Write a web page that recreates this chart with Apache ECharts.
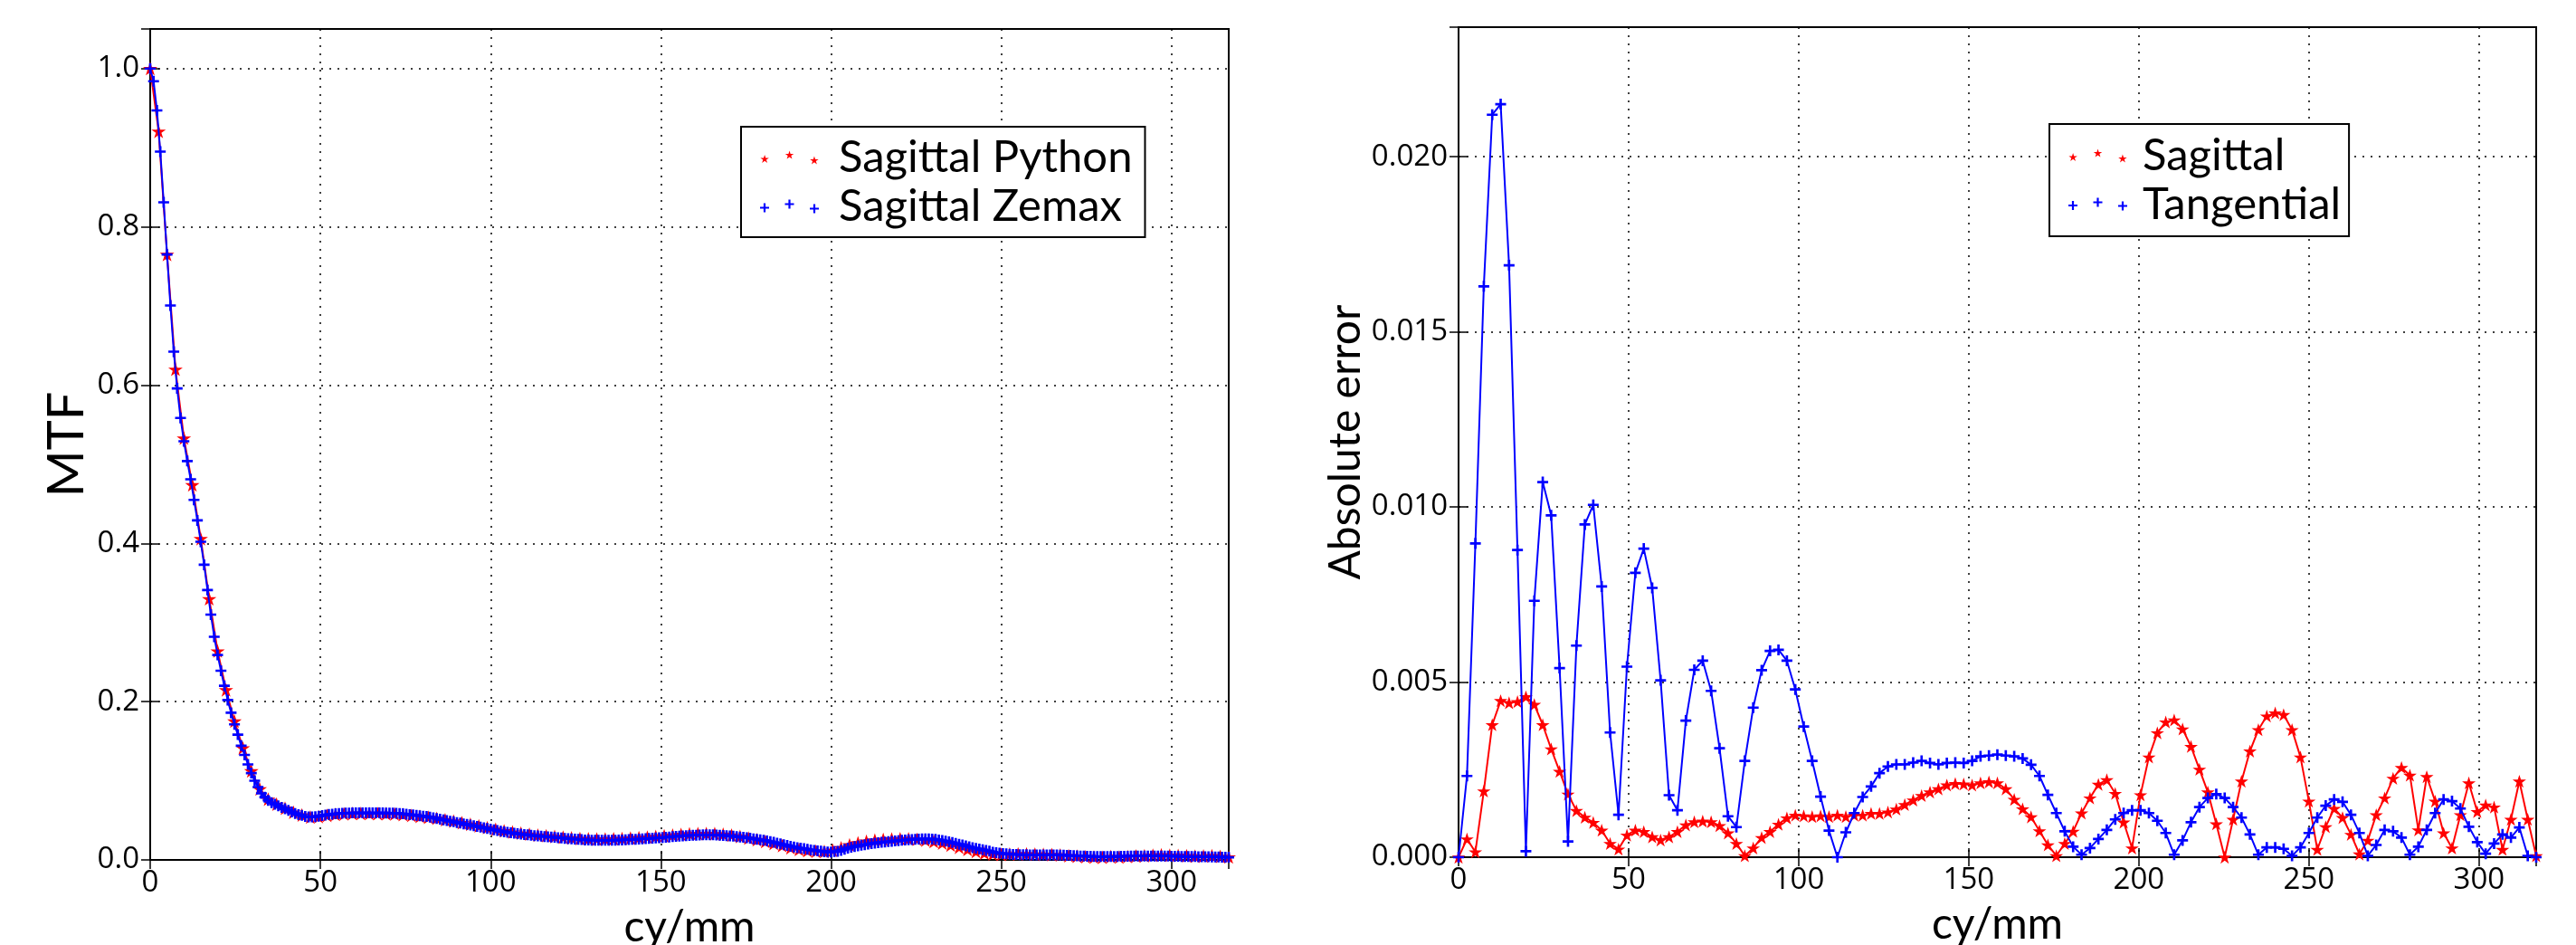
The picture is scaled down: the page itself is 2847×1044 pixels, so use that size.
<!DOCTYPE html>
<html><head><meta charset="utf-8">
<script src="https://cdn.jsdelivr.net/npm/echarts@6/dist/echarts.min.js"></script>
<style>html,body{margin:0;padding:0;background:#fff}#c{width:2847px;height:1044px}</style>
</head><body><div id="c"></div>
<script>
// ---------- DATA ----------
// frequency samples (cy/mm) of the Python computation (also used for the error plot)
const freqPython = [0,2.475,4.95,7.425,9.9,12.375,14.85,17.325,19.8,22.275,24.75,27.225,29.7,32.175,34.65,37.125,39.6,42.075,44.55,47.025,49.5,51.975,54.45,56.925,59.4,61.875,64.35,66.825,69.3,71.775,74.25,76.725,79.2,81.675,84.15,86.625,89.1,91.575,94.05,96.525,99,101.475,103.95,106.425,108.9,111.375,113.85,116.325,118.8,121.275,123.75,126.225,128.7,131.175,133.65,136.125,138.6,141.075,143.55,146.025,148.5,150.975,153.45,155.925,158.4,160.875,163.35,165.825,168.3,170.775,173.25,175.725,178.2,180.675,183.15,185.625,188.1,190.575,193.05,195.525,198,200.475,202.95,205.425,207.9,210.375,212.85,215.325,217.8,220.275,222.75,225.225,227.7,230.175,232.65,235.125,237.6,240.075,242.55,245.025,247.5,249.975,252.45,254.925,257.4,259.875,262.35,264.825,267.3,269.775,272.25,274.725,277.2,279.675,282.15,284.625,287.1,289.575,292.05,294.525,297,299.475,301.95,304.425,306.9,309.375,311.85,314.325,316.8];

// frequency samples (cy/mm) of the Zemax data
const freqZemax = [0,0.99,1.98,2.97,3.96,4.95,5.94,6.93,7.92,8.91,
9.9,10.89,11.88,12.87,13.86,14.85,15.84,16.83,17.82,18.81,
19.8,20.79,21.78,22.77,23.76,24.75,25.74,26.73,27.72,28.71,
29.7,30.69,31.68,32.67,33.66,34.65,35.64,36.63,37.62,38.61,
39.6,40.59,41.58,42.57,43.56,44.55,45.54,46.53,47.52,48.51,
49.5,50.49,51.48,52.47,53.46,54.45,55.44,56.43,57.42,58.41,
59.4,60.39,61.38,62.37,63.36,64.35,65.34,66.33,67.32,68.31,
69.3,70.29,71.28,72.27,73.26,74.25,75.24,76.23,77.22,78.21,
79.2,80.19,81.18,82.17,83.16,84.15,85.14,86.13,87.12,88.11,
89.1,90.09,91.08,92.07,93.06,94.05,95.04,96.03,97.02,98.01,
99,99.99,100.98,101.97,102.96,103.95,104.94,105.93,106.92,107.91,
108.9,109.89,110.88,111.87,112.86,113.85,114.84,115.83,116.82,117.81,
118.8,119.79,120.78,121.77,122.76,123.75,124.74,125.73,126.72,127.71,
128.7,129.69,130.68,131.67,132.66,133.65,134.64,135.63,136.62,137.61,
138.6,139.59,140.58,141.57,142.56,143.55,144.54,145.53,146.52,147.51,
148.5,149.49,150.48,151.47,152.46,153.45,154.44,155.43,156.42,157.41,
158.4,159.39,160.38,161.37,162.36,163.35,164.34,165.33,166.32,167.31,
168.3,169.29,170.28,171.27,172.26,173.25,174.24,175.23,176.22,177.21,
178.2,179.19,180.18,181.17,182.16,183.15,184.14,185.13,186.12,187.11,
188.1,189.09,190.08,191.07,192.06,193.05,194.04,195.03,196.02,197.01,
198,198.99,199.98,200.97,201.96,202.95,203.94,204.93,205.92,206.91,
207.9,208.89,209.88,210.87,211.86,212.85,213.84,214.83,215.82,216.81,
217.8,218.79,219.78,220.77,221.76,222.75,223.74,224.73,225.72,226.71,
227.7,228.69,229.68,230.67,231.66,232.65,233.64,234.63,235.62,236.61,
237.6,238.59,239.58,240.57,241.56,242.55,243.54,244.53,245.52,246.51,
247.5,248.49,249.48,250.47,251.46,252.45,253.44,254.43,255.42,256.41,
257.4,258.39,259.38,260.37,261.36,262.35,263.34,264.33,265.32,266.31,
267.3,268.29,269.28,270.27,271.26,272.25,273.24,274.23,275.22,276.21,
277.2,278.19,279.18,280.17,281.16,282.15,283.14,284.13,285.12,286.11,
287.1,288.09,289.08,290.07,291.06,292.05,293.04,294.03,295.02,296.01,
297,297.99,298.98,299.97,300.96,301.95,302.94,303.93,304.92,305.91,
306.9,307.89,308.88,309.87,310.86,311.85,312.84,313.83,314.82,315.81,
316.8];

// Sagittal MTF, Python (red stars)
const mtfPython = [1.000,0.9207,0.765,0.620,0.533,0.474,0.406,0.330,0.264,0.215,
0.1754,0.1415,0.1125,0.0897,0.0767,0.0704,0.0653,0.0603,0.0567,0.0541,
0.0546,0.0563,0.0575,0.0583,0.0587,0.0587,0.0586,0.0585,0.0584,0.0581,
0.0574,0.0562,0.055,0.0539,0.0526,0.0508,0.0491,0.0471,0.0451,0.043,
0.0409,0.0387,0.0368,0.0352,0.0338,0.0326,0.0314,0.0306,0.0297,0.0287,
0.0278,0.0271,0.0267,0.0265,0.0265,0.0267,0.0271,0.0277,0.0282,0.0289,
0.0297,0.0304,0.0314,0.0323,0.033,0.0332,0.0334,0.0332,0.0325,0.0313,
0.0297,0.0277,0.0256,0.0232,0.0208,0.018,0.0154,0.0133,0.0118,0.0109,
0.0107,0.0122,0.0154,0.0191,0.0216,0.0236,0.025,0.026,0.0266,0.0268,
0.0267,0.026,0.025,0.0233,0.0212,0.0187,0.0159,0.0132,0.0106,0.0087,
0.0074,0.007,0.0074,0.0076,0.0076,0.0073,0.0071,0.0067,0.0063,0.0054,
0.0048,0.004,0.0035,0.0034,0.0042,0.0036,0.0043,0.0049,0.0052,0.0059,
0.0064,0.0058,0.0057,0.0054,0.0047,0.0049,0.0053,0.0045,0.0037];

// Sagittal MTF, Zemax (blue plus)
const mtfZemax = [1.000,0.984,0.947,0.895,0.831,0.765,0.7006,0.6422,0.5958,0.5584,
0.529,0.504,0.481,0.455,0.429,0.402,0.373,0.341,0.310,0.282,
0.259,0.239,0.220,0.202,0.186,0.1713,0.1583,0.1443,0.1327,0.1207,
0.1097,0.1001,0.0921,0.0841,0.0793,0.0753,0.0723,0.0704,0.0684,0.0664,
0.0645,0.0625,0.0605,0.0587,0.0572,0.0562,0.0549,0.0542,0.0544,0.0546,
0.0553,0.056,0.0567,0.0574,0.0579,0.0583,0.0586,0.0589,0.0591,0.0592,
0.0594,0.0594,0.0594,0.0594,0.0594,0.0594,0.0594,0.0594,0.0594,0.0594,
0.0593,0.0592,0.0591,0.0589,0.0586,0.0583,0.0578,0.0573,0.0568,0.0563,
0.0558,0.0553,0.0548,0.0541,0.0533,0.0524,0.0514,0.0506,0.0498,0.049,
0.0482,0.0473,0.0465,0.0456,0.0448,0.044,0.0431,0.0423,0.0414,0.0405,
0.0397,0.0388,0.038,0.0371,0.0363,0.0356,0.0349,0.0342,0.0337,0.0331,
0.0326,0.0321,0.0316,0.0311,0.0306,0.0302,0.0299,0.0295,0.0292,0.0289,
0.0285,0.0281,0.0277,0.0273,0.0269,0.0266,0.0263,0.026,0.0256,0.0253,
0.0252,0.025,0.0249,0.0248,0.0248,0.0248,0.0248,0.0249,0.025,0.0251,
0.0253,0.0255,0.0257,0.0259,0.0261,0.0263,0.0266,0.0268,0.0271,0.0274,
0.0277,0.028,0.0283,0.0286,0.029,0.0294,0.0298,0.0301,0.0304,0.0307,
0.031,0.0312,0.0313,0.0315,0.0316,0.0317,0.0317,0.0316,0.0315,0.0313,
0.031,0.0307,0.0303,0.0299,0.0295,0.029,0.0285,0.028,0.0274,0.0267,
0.026,0.0254,0.0248,0.024,0.0231,0.0222,0.0212,0.0202,0.0192,0.0182,
0.0172,0.0163,0.0155,0.0148,0.0142,0.0135,0.0127,0.012,0.0115,0.0111,
0.0104,0.0101,0.0101,0.0105,0.0108,0.0121,0.0135,0.0148,0.016,0.0169,
0.0178,0.0186,0.0193,0.02,0.0207,0.0213,0.0218,0.0222,0.0227,0.0231,
0.0234,0.0239,0.0244,0.0248,0.0252,0.0255,0.0258,0.0261,0.0264,0.0265,
0.0265,0.0265,0.0264,0.026,0.0253,0.0246,0.0237,0.0228,0.0219,0.0209,
0.0198,0.0188,0.0177,0.0166,0.0155,0.0145,0.0136,0.0128,0.012,0.0111,
0.0098,0.0091,0.0086,0.0081,0.0076,0.0072,0.0069,0.0068,0.0067,0.0066,
0.0065,0.0064,0.0064,0.0064,0.0064,0.0064,0.0064,0.0063,0.0062,0.0062,
0.0061,0.0059,0.0057,0.0056,0.0054,0.0052,0.005,0.0048,0.0046,0.0045,
0.0044,0.0043,0.0042,0.0042,0.0042,0.0042,0.0043,0.0044,0.0045,0.0046,
0.0047,0.0048,0.0048,0.0049,0.0049,0.0049,0.0049,0.0049,0.0049,0.0049,
0.0049,0.0049,0.0048,0.0047,0.0046,0.0045,0.0044,0.0043,0.0043,0.0042,
0.0042,0.0041,0.004,0.0039,0.0039,0.0038,0.0037,0.0036,0.0035,0.0034,
0.0033];

// Absolute error, Sagittal (red stars)
const errSagittal = [0,0.00052,0.00015,0.00189,0.00378,0.00447,0.00441,0.00444,0.00458,0.00436,
0.00378,0.00309,0.00245,0.0018,0.00133,0.00114,0.00099,0.00077,0.00039,0.00023,
0.00063,0.00077,0.00073,0.00058,0.00049,0.00058,0.00073,0.00092,0.00101,0.00103,
0.00101,0.0009,0.00069,0.00039,0.00004,0.00026,0.00056,0.00073,0.00094,0.00112,
0.0012,0.00118,0.00116,0.00118,0.00116,0.0012,0.00116,0.0012,0.0012,0.00125,
0.00125,0.00129,0.00137,0.0015,0.00163,0.00176,0.00186,0.00195,0.00206,0.0021,
0.00209,0.00206,0.00212,0.00215,0.00212,0.00195,0.00165,0.00138,0.00115,0.00075,
0.00035,0.00004,0.00039,0.00074,0.00126,0.00169,0.00208,0.00221,0.00182,0.001,
0.00026,0.00178,0.00286,0.00355,0.00386,0.00392,0.00366,0.00316,0.00251,0.00186,
0.00095,0.0,0.00108,0.00217,0.00303,0.00364,0.00403,0.00412,0.00407,0.00364,
0.00286,0.0016,0.00022,0.00087,0.00139,0.00113,0.00065,0.00009,0.00048,0.00121,
0.00169,0.00225,0.00256,0.00234,0.00078,0.0023,0.0016,0.00069,0.00026,0.00121,
0.00212,0.0013,0.00149,0.00143,0.00022,0.00108,0.00217,0.00108,0.00004];

// Absolute error, Tangential (blue plus)
const errTangential = [0,0.00232,0.00896,0.0163,0.0212,0.0215,0.0169,0.00877,0.00017,0.00732,
0.01071,0.00976,0.0054,0.00045,0.00604,0.0095,0.01006,0.00773,0.00356,0.00121,
0.00544,0.00812,0.00881,0.00769,0.00505,0.00177,0.00134,0.0039,0.00535,0.00561,
0.00475,0.00311,0.00117,0.00086,0.00275,0.00427,0.00534,0.00589,0.00592,0.00561,
0.00479,0.00373,0.00275,0.00173,0.00076,0.0,0.00071,0.00126,0.00172,0.00202,
0.0024,0.00259,0.00265,0.00265,0.0027,0.00275,0.00269,0.00265,0.00269,0.0027,
0.00269,0.00275,0.00288,0.0029,0.00293,0.0029,0.00288,0.00282,0.00264,0.00232,
0.00178,0.00126,0.00074,0.0003,0.00007,0.00026,0.00052,0.00078,0.00108,0.00126,
0.00134,0.00134,0.00126,0.00104,0.00069,0.00007,0.00048,0.001,0.00143,0.00169,
0.0018,0.00169,0.00143,0.00113,0.00065,0.00007,0.00028,0.00028,0.00024,0.00004,
0.00028,0.00069,0.00113,0.00147,0.00165,0.00158,0.00121,0.00069,0.00004,0.00035,
0.00078,0.00074,0.00056,0.00007,0.0003,0.00078,0.00126,0.00165,0.0016,0.00139,
0.00087,0.00043,0.0001,0.00039,0.00065,0.00056,0.00085,0.00004,0];

const leftNames = ['Sagittal Python', 'Sagittal Zemax'];
const rightNames = ['Sagittal', 'Tangential'];
const axisNames = {x: 'cy/mm', yLeft: 'MTF', yRight: 'Absolute error'};

// ---------- STYLE HELPERS ----------
const STAR_PTS = [[5,0],[6.12,3.45],[9.76,3.45],[6.82,5.59],[7.94,9.05],[5,6.91],[2.06,9.05],[3.18,5.59],[0.24,3.45],[3.88,3.45]];
const PLUS_PTS = [[3.9,0],[6.1,0],[6.1,3.9],[10,3.9],[10,6.1],[6.1,6.1],[6.1,10],[3.9,10],[3.9,6.1],[0,6.1],[0,3.9],[3.9,3.9]];
function poly(pts, dx, dy){ return 'M' + pts.map(p => (p[0]+dx).toFixed(2)+','+(p[1]+dy).toFixed(2)).join('L') + 'Z'; }
const STAR = 'path://' + poly(STAR_PTS,0,0);
const PLUS = 'path://' + poly(PLUS_PTS,0,0);
function triple(pts, offs, totalW, totalH){
  let s = offs.map(o => poly(pts, o[0], o[1])).join('');
  s += 'M0,0L0,0ZM' + totalW + ',' + totalH + 'L' + totalW + ',' + totalH + 'Z';
  return 'path://' + s;
}
const zip = (xs, ys) => ys.map((y, i) => [xs[i], y]);

const FONT = 'Lato';
const TICKFONT = 'Open Sans';
const dotted = {color:'#000', type:[2,7], width:1.5};

function xAx(grid){
  return [{
    gridIndex: grid, type:'value', min:0, max:316.8, interval:50,
    axisLine:{show:false},
    axisTick:{inside:true, length:10, lineStyle:{color:'#000', width:1.5}},
    axisLabel:{fontSize:33, color:'#000', fontFamily:TICKFONT, margin:9, showMaxLabel:false},
    splitLine:{show:true, lineStyle:dotted},
    name: axisNames.x, nameLocation:'middle', nameGap:51,
    nameTextStyle:{fontSize:48, fontFamily:FONT, color:'#000'}
  },{
    gridIndex: grid, type:'value', min:0, max:316.8, interval:50, position:'top',
    axisLine:{show:false},
    axisTick:{inside:true, length:10, lineStyle:{color:'#000', width:1.5}},
    axisLabel:{show:false}, splitLine:{show:false}
  }];
}
function yAx(grid, max, interval, dec, name, nameSize, nameGap){
  return [{
    gridIndex: grid, type:'value', min:0, max:max, interval:interval,
    axisLine:{show:false},
    axisTick:{inside:true, length:10, lineStyle:{color:'#000', width:1.5}},
    axisLabel:{fontSize:33, color:'#000', fontFamily:TICKFONT, margin:12, showMaxLabel:false,
      formatter: v => v.toFixed(dec)},
    splitLine:{show:true, lineStyle:dotted},
    name: name, nameLocation:'middle', nameGap:nameGap, nameRotate:90,
    nameTextStyle:{fontSize:nameSize, fontFamily:FONT, color:'#000'}
  },{
    gridIndex: grid, type:'value', min:0, max:max, interval:interval, position:'right',
    axisLine:{show:false},
    axisTick:{inside:true, length:10, lineStyle:{color:'#000', width:1.5}},
    axisLabel:{show:false}, splitLine:{show:false}
  }];
}
function ser(name, xi, yi, data, color, symbol, size, z){
  return {type:'line', name:name, xAxisIndex:xi, yAxisIndex:yi, data:data,
    symbol:symbol, symbolSize:size, showAllSymbol:true, symbolKeepAspect:true,
    lineStyle:{color:color, width:2}, itemStyle:{color:color, borderWidth:0},
    emphasis:{disabled:true}, animation:false, z:z};
}
const legendStarL = triple(STAR_PTS, [[0,4.5],[27.5,0],[55,6]], 82, 15);
const legendPlusL = triple(PLUS_PTS, [[0,4],[27.5,0],[55,5]], 82, 15);
const legendStarR = triple(STAR_PTS, [[0,4.5],[27.5,0],[55,6]], 77, 15);
const legendPlusR = triple(PLUS_PTS, [[0,3.5],[27.5,0],[55,4]], 77, 15);

const chart = echarts.init(document.getElementById('c'), null, {renderer:'canvas'});
chart.setOption({
  animation:false,
  backgroundColor:'#fff',
  grid:[
    {left:166, top:32, width:1192, height:918, show:true, borderColor:'#000', borderWidth:2,
     backgroundColor:'transparent', containLabel:false, outerBoundsMode:'none'},
    {left:1612, top:30, width:1191, height:917, show:true, borderColor:'#000', borderWidth:2,
     backgroundColor:'transparent', containLabel:false, outerBoundsMode:'none'}
  ],
  xAxis:[...xAx(0), ...xAx(1)],
  yAxis:[...yAx(0, 1.05, 0.2, 1, axisNames.yLeft, 56, 64), ...yAx(1, 0.0237, 0.005, 3, axisNames.yRight, 48, 100)],
  legend:[
    {left:819, top:140, orient:'vertical', padding:[7,14,7,21], itemGap:0,
     itemWidth:82, itemHeight:15, borderColor:'#000', borderWidth:2, backgroundColor:'#fff',
     textStyle:{fontSize:49, fontFamily:FONT, color:'#000', lineHeight:54},
     selectedMode:false,
     data:[{name:leftNames[0], icon:legendStarL, itemStyle:{color:'#f00'}},
           {name:leftNames[1], icon:legendPlusL, itemStyle:{color:'#00f'}}]},
    {left:2265, top:137, orient:'vertical', padding:[8,9,8,21], itemGap:0,
     itemWidth:77, itemHeight:15, borderColor:'#000', borderWidth:2, backgroundColor:'#fff',
     textStyle:{fontSize:49, fontFamily:FONT, color:'#000', lineHeight:54},
     selectedMode:false,
     data:[{name:rightNames[0], icon:legendStarR, itemStyle:{color:'#f00'}},
           {name:rightNames[1], icon:legendPlusR, itemStyle:{color:'#00f'}}]}
  ],
  series:[
    ser(leftNames[0], 0, 0, zip(freqPython, mtfPython), '#ff0000', STAR, 16, 2),
    ser(leftNames[1], 0, 0, zip(freqZemax, mtfZemax), '#0000ff', PLUS, 12, 3),
    ser(rightNames[0], 2, 2, zip(freqPython, errSagittal), '#ff0000', STAR, 15, 2),
    ser(rightNames[1], 2, 2, zip(freqPython, errTangential), '#0000ff', PLUS, 12, 3)
  ]
});
</script></body></html>
